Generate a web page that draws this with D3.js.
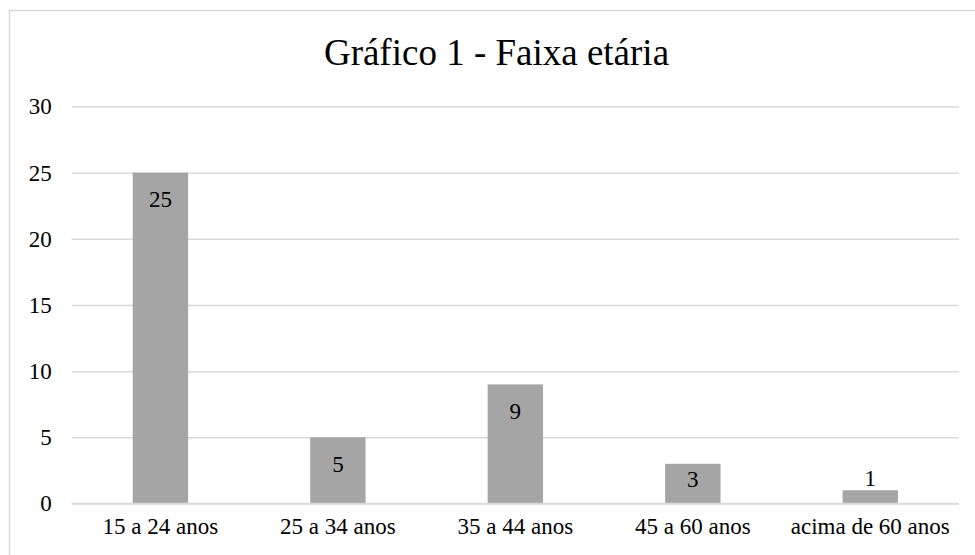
<!DOCTYPE html>
<html>
<head>
<meta charset="utf-8">
<script src="https://cdn.jsdelivr.net/npm/d3@7"></script>
<style>
  html, body { margin: 0; padding: 0; background: #fff; }
  svg { display: block; }
</style>
</head>
<body>
<svg id="chart" width="975" height="555"></svg>
<script>
// Faixa etária dos participantes
const categories = ["15 a 24 anos", "25 a 34 anos", "35 a 44 anos", "45 a 60 anos", "acima de 60 anos"];
const values = [25, 5, 9, 3, 1];
const yTicks = [0, 5, 10, 15, 20, 25, 30];
const title = "Gráfico 1 - Faixa etária";

const serif = "'Liberation Serif'";
const svg = d3.select("#chart");

// outer frame of the chart
svg.append("rect")
  .attr("x", 9.5).attr("y", 10.5)
  .attr("width", 990).attr("height", 560)
  .attr("fill", "#fff")
  .attr("stroke", "#d9d9d9").attr("stroke-width", 1.5);

svg.append("text")
  .attr("x", 496.5).attr("y", 65)
  .attr("text-anchor", "middle")
  .style("font-family", serif)
  .style("font-size", "37px")
  .attr("fill", "#000")
  .text(title);

const plot = { left: 71.7, right: 959, top: 106.5, bottom: 503.5 };

const x = d3.scaleBand()
  .domain(categories)
  .range([plot.left, plot.right])
  .paddingInner(0.688)
  .paddingOuter(0.344);

const y = d3.scaleLinear()
  .domain([0, 30])
  .range([plot.bottom, plot.top]);

// horizontal gridlines with left-side value labels
const yAxis = d3.axisLeft(y)
  .tickValues(yTicks)
  .tickSize(-(plot.right - plot.left))
  .tickPadding(20)
  .tickFormat(d3.format("d"));

const gy = svg.append("g")
  .attr("transform", `translate(${plot.left},0)`)
  .call(yAxis);
gy.select(".domain").remove();
gy.selectAll(".tick line").attr("stroke", "#d9d9d9").attr("stroke-width", 1.5);
gy.selectAll(".tick text")
  .style("font-family", serif)
  .style("font-size", "23px")
  .attr("fill", "#000");

// bars
svg.append("g").selectAll("rect")
  .data(values)
  .join("rect")
  .attr("x", (d, i) => x(categories[i]))
  .attr("width", x.bandwidth())
  .attr("y", d => y(d))
  .attr("height", d => y(0) - y(d))
  .attr("fill", "#a5a5a5");

// baseline redrawn over the bars
svg.append("line")
  .attr("x1", plot.left).attr("x2", plot.right)
  .attr("y1", y(0)).attr("y2", y(0))
  .attr("stroke", "#d9d9d9").attr("stroke-width", 1.5);

// value labels: inside the bar end, kept within short bars, above the shortest ones
svg.append("g").selectAll("text")
  .data(values)
  .join("text")
  .attr("x", (d, i) => x(categories[i]) + x.bandwidth() / 2)
  .attr("y", d => {
    const h = y(0) - y(d);
    if (h < 30) return y(d) - 4;
    return Math.min(y(d) + 34.6, y(0) - 16.5);
  })
  .attr("text-anchor", "middle")
  .style("font-family", serif)
  .style("font-size", "23px")
  .attr("fill", "#000")
  .text(d => d);

// category labels
const xAxis = d3.axisBottom(x).tickSize(0).tickPadding(14);
const gx = svg.append("g")
  .attr("transform", `translate(0,${plot.bottom})`)
  .call(xAxis);
gx.select(".domain").remove();
gx.selectAll(".tick text")
  .style("font-family", serif)
  .style("font-size", "23px")
  .attr("fill", "#000")
  .attr("dy", "0.71em");
</script>
</body>
</html>
